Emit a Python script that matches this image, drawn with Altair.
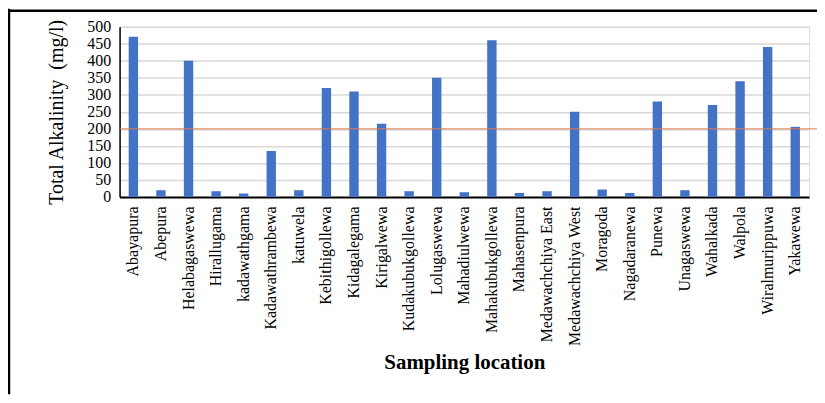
import altair as alt
import pandas as pd

locations = [
    "Abayapura", "Abepura", "Helabagaswewa", "Hirallugama", "kadawathgama",
    "Kadawathrambewa", "katuwela", "Kebithigollewa", "Kidagalegama", "Kirigalwewa",
    "Kudakubukgollewa", "Lolugaswewa", "Mahadiulwewa", "Mahakubukgollewa", "Mahasenpura",
    "Medawachchiya East", "Medawachchiya West", "Moragoda", "Nagadaranewa", "Punewa",
    "Unagaswewa", "Wahalkada", "Walpola", "Wiralmurippuwa", "Yakawewa",
]
alkalinity = [
    470, 20, 400, 17, 10,
    135, 20, 320, 310, 215,
    17, 350, 14, 460, 12,
    17, 250, 22, 12, 280,
    20, 270, 340, 440, 206,
]
threshold = [200]
y_ticks = [0, 50, 100, 150, 200, 250, 300, 350, 400, 450, 500]

df = pd.DataFrame({"location": locations, "value": alkalinity})
df_t = pd.DataFrame({"limit": threshold})

FONT = "Liberation Serif"
W, H = 692, 171

y_scale = alt.Scale(domain=[0, 500], nice=False)
y_axis = alt.Axis(
    title="Total Alkalinity \u00a0(mg/l)",
    values=y_ticks,
    labelFont=FONT,
    labelFontSize=16,
    labelColor="black",
    labelPadding=9,
    labelOverlap=False,
    labelFlush=False,
    ticks=False,
    domainColor="black",
    domainWidth=1.5,
    grid=True,
    gridColor="#D9D9D9",
    gridWidth=1.5,
    titleFont=FONT,
    titleFontSize=20,
    titleFontWeight="normal",
    titleColor="black",
    titlePadding=20,
)

bars = alt.Chart(df).mark_bar(color="#4472C4").encode(
    x=alt.X(
        "location:N",
        sort=None,
        scale=alt.Scale(paddingInner=0.66, paddingOuter=0.33),
        axis=alt.Axis(
            title="Sampling location",
            labelAngle=-90,
            labelFont=FONT,
            labelFontSize=16,
            labelColor="black",
            labelPadding=9,
            labelOverlap=False,
            ticks=False,
            domainColor="black",
            domainWidth=2,
            titleFont=FONT,
            titleFontSize=21,
            titleFontWeight="bold",
            titleColor="black",
            titlePadding=6,
        ),
    ),
    y=alt.Y("value:Q", scale=y_scale, axis=y_axis),
)

limit = alt.Chart(df_t).mark_rule(color="#E07B4F", strokeWidth=1).encode(
    y=alt.Y("limit:Q", scale=y_scale, axis=y_axis),
    x=alt.value(0),
    x2=alt.value(W + 12),
)

frame_left = alt.Chart(df_t).mark_rule(color="black", strokeWidth=2.5).encode(
    x=alt.value(-111), y=alt.value(-18), y2=alt.value(H + 198),
)
frame_top = alt.Chart(df_t).mark_rule(color="black", strokeWidth=2.5).encode(
    x=alt.value(-112), x2=alt.value(W + 8), y=alt.value(-16),
)

chart = alt.layer(bars, limit, frame_left, frame_top).properties(
    width=W,
    height=H,
    padding={"left": 112, "top": 18, "right": 8, "bottom": 198},
    autosize=alt.AutoSizeParams(type="none"),
).configure_view(stroke=None).configure(background="white")

chart.save("out.html", embed_options={"renderer": "svg", "actions": False})
